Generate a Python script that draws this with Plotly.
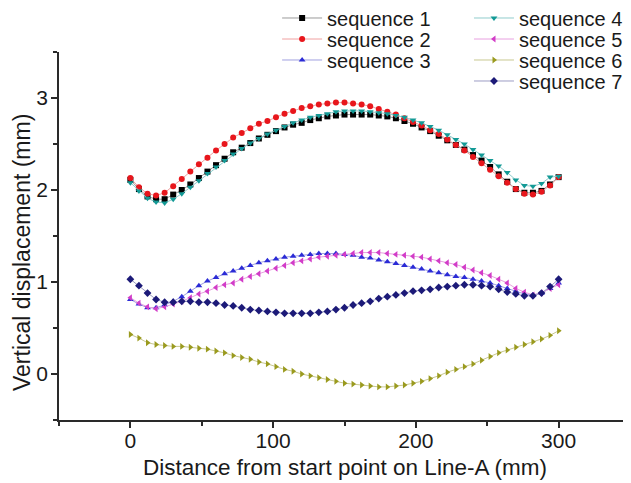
import plotly.graph_objects as go

distance = [0, 6, 12, 18, 24, 30, 36, 42, 48, 54, 60, 66, 72, 78, 84, 90, 96, 102, 108, 114,
            120, 126, 132, 138, 144, 150, 156, 162, 168, 174, 180, 186, 192, 198, 204, 210,
            216, 222, 228, 234, 240, 246, 252, 258, 264, 270, 276, 282, 288, 294, 300]

seq1 = [2.11, 2.01, 1.93, 1.90, 1.90, 1.95, 2.00, 2.06, 2.13, 2.20, 2.27, 2.34, 2.41, 2.46, 2.51,
        2.56, 2.60, 2.64, 2.68, 2.71, 2.73, 2.76, 2.78, 2.80, 2.81, 2.82, 2.82, 2.82, 2.82, 2.81,
        2.80, 2.78, 2.75, 2.72, 2.68, 2.64, 2.59, 2.54, 2.49, 2.44, 2.38, 2.32, 2.25, 2.17, 2.09,
        2.01, 1.97, 1.97, 1.99, 2.06, 2.14]
seq2 = [2.13, 2.03, 1.96, 1.94, 1.97, 2.04, 2.12, 2.20, 2.28, 2.35, 2.43, 2.50, 2.57, 2.62, 2.67,
        2.72, 2.75, 2.79, 2.83, 2.86, 2.89, 2.91, 2.93, 2.94, 2.95, 2.95, 2.94, 2.93, 2.91, 2.88,
        2.85, 2.82, 2.78, 2.74, 2.70, 2.65, 2.61, 2.55, 2.49, 2.43, 2.36, 2.29, 2.22, 2.15, 2.08,
        2.01, 1.96, 1.95, 1.98, 2.05, 2.14]
seq3 = [0.81, 0.76, 0.72, 0.72, 0.75, 0.79, 0.84, 0.90, 0.96, 1.01, 1.05, 1.09, 1.12, 1.15, 1.18,
        1.21, 1.23, 1.25, 1.27, 1.28, 1.29, 1.30, 1.31, 1.31, 1.31, 1.30, 1.29, 1.27, 1.26, 1.24,
        1.22, 1.20, 1.18, 1.16, 1.14, 1.12, 1.10, 1.08, 1.06, 1.05, 1.03, 1.01, 0.99, 0.96, 0.93,
        0.90, 0.87, 0.86, 0.88, 0.93, 0.99]
seq4 = [2.08, 1.99, 1.91, 1.87, 1.86, 1.90, 1.96, 2.03, 2.10, 2.18, 2.25, 2.32, 2.39, 2.45, 2.51,
        2.56, 2.61, 2.65, 2.69, 2.73, 2.76, 2.79, 2.81, 2.83, 2.85, 2.86, 2.86, 2.86, 2.85, 2.84,
        2.83, 2.81, 2.79, 2.76, 2.73, 2.69, 2.65, 2.60, 2.55, 2.50, 2.44, 2.38, 2.32, 2.26, 2.19,
        2.11, 2.05, 2.04, 2.07, 2.14, 2.15]
seq5 = [0.83, 0.77, 0.73, 0.71, 0.73, 0.76, 0.79, 0.83, 0.87, 0.90, 0.94, 0.97, 0.99, 1.03, 1.06,
        1.09, 1.12, 1.15, 1.18, 1.21, 1.23, 1.25, 1.27, 1.28, 1.29, 1.30, 1.31, 1.32, 1.32, 1.32,
        1.31, 1.30, 1.29, 1.28, 1.27, 1.25, 1.23, 1.21, 1.19, 1.16, 1.13, 1.10, 1.07, 1.03, 0.99,
        0.93, 0.89, 0.86, 0.88, 0.93, 0.97]
seq6 = [0.43, 0.39, 0.34, 0.32, 0.31, 0.30, 0.30, 0.29, 0.28, 0.27, 0.25, 0.23, 0.20, 0.18, 0.16,
        0.13, 0.11, 0.08, 0.05, 0.03, 0.00, -0.02, -0.04, -0.06, -0.08, -0.10, -0.11, -0.12, -0.13,
        -0.14, -0.14, -0.13, -0.12, -0.10, -0.08, -0.05, -0.02, 0.02, 0.05, 0.08, 0.11, 0.15, 0.19,
        0.23, 0.26, 0.29, 0.32, 0.35, 0.38, 0.42, 0.47]
seq7 = [1.03, 0.96, 0.88, 0.81, 0.78, 0.78, 0.79, 0.79, 0.78, 0.78, 0.77, 0.75, 0.74, 0.72, 0.70,
        0.69, 0.68, 0.67, 0.66, 0.66, 0.66, 0.66, 0.67, 0.68, 0.70, 0.72, 0.75, 0.77, 0.79, 0.82,
        0.84, 0.86, 0.88, 0.90, 0.91, 0.92, 0.94, 0.95, 0.96, 0.97, 0.97, 0.96, 0.95, 0.92, 0.89,
        0.87, 0.85, 0.85, 0.88, 0.95, 1.03]

names = ["sequence 1", "sequence 2", "sequence 3", "sequence 4",
         "sequence 5", "sequence 6", "sequence 7"]
series = [seq1, seq2, seq3, seq4, seq5, seq6, seq7]
marker_colors = ["#000000", "#e8161c", "#2b2bd6", "#139a96", "#d23cc8", "#9a9a1e", "#1c1a78"]
line_colors = ["#9a9a9a", "#f0a0a0", "#a0a0e0", "#90cccc", "#e8a0e0", "#c8c890", "#9c9cc4"]
symbols = ["square", "circle", "triangle-up", "triangle-down",
           "triangle-left", "triangle-right", "diamond"]

# legend placement: (column x in paper, row y in paper) for each series
legend_x = [0.382, 0.382, 0.382, 0.718, 0.718, 0.718, 0.718]
legend_y = [1.0924, 1.0353, 0.9783, 1.0924, 1.0353, 0.9783, 0.9212]

fig = go.Figure()
font_family = "Liberation Sans, Arial, sans-serif"
legend_layouts = {}
for i, (name, ys, mc, lc, sym) in enumerate(zip(names, series, marker_colors, line_colors, symbols)):
    lg = "legend" if i == 0 else f"legend{i + 1}"
    fig.add_trace(go.Scatter(
        x=distance, y=ys, name=name, mode="lines+markers",
        line=dict(color=lc, width=1),
        marker=dict(symbol=sym, color=mc, size=6, line=dict(width=0)),
        legend=lg,
    ))
    legend_layouts[lg] = dict(
        x=legend_x[i], y=legend_y[i], xanchor="left", yanchor="middle",
        bgcolor="rgba(0,0,0,0)", font=dict(size=20, family=font_family, color="#1a1a1a"),
        itemwidth=40, borderwidth=0,
    )

axis_common = dict(
    showline=True, linecolor="#2a2a2a", linewidth=1.5, mirror=False,
    ticks="outside", ticklen=6, tickwidth=1.5, tickcolor="#2a2a2a",
    showgrid=False, zeroline=False, automargin=False,
    tickfont=dict(size=21, color="#1a1a1a", family=font_family),
)
# the page body adds an 8 px offset, so margins are reduced by 8 px on the left/top
fig.update_layout(
    width=631, height=483,
    margin=dict(l=51, r=9, t=44, b=71, autoexpand=False),
    paper_bgcolor="white", plot_bgcolor="white",
    font=dict(family=font_family, color="#1a1a1a"),
    xaxis=dict(
        range=[-50, 350], tick0=0, dtick=100, ticklabelstandoff=-5,
        minor=dict(dtick=50, ticks="outside", ticklen=4, tickwidth=1.5, tickcolor="#2a2a2a"),
        **axis_common,
    ),
    yaxis=dict(
        range=[-0.5, 3.5], tick0=0, dtick=1, ticklabelstandoff=-1,
        minor=dict(dtick=0.5, ticks="outside", ticklen=4, tickwidth=1.5, tickcolor="#2a2a2a"),
        **axis_common,
    ),
    annotations=[
        dict(text="Distance from start point on Line-A (mm)", xref="paper", yref="paper",
             x=0.5, y=-0.128, xanchor="center", yanchor="middle", showarrow=False,
             font=dict(size=22.5, family=font_family, color="#1a1a1a")),
        dict(text="Vertical displacement (mm)", xref="paper", yref="paper",
             x=-0.0648, y=0.4565, xanchor="center", yanchor="middle", showarrow=False,
             textangle=-90, font=dict(size=23, family=font_family, color="#1a1a1a")),
    ],
    showlegend=True,
    **legend_layouts,
)

fig.write_html("out.html")
